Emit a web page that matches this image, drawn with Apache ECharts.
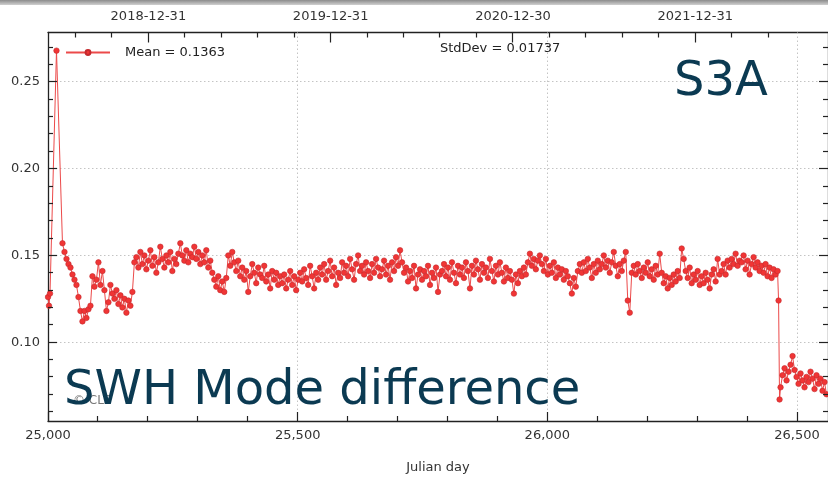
<!DOCTYPE html>
<html><head><meta charset="utf-8">
<script src="https://cdn.jsdelivr.net/npm/echarts@6/dist/echarts.min.js"></script>
<style>html,body{margin:0;padding:0;background:#fff}#c{width:828px;height:479px}</style>
</head><body><div id="c"></div>
<script>
// ---- data ----
const earlyDays = [25000, 25002, 25004, 25017];
const earlyVals = [0.126, 0.121, 0.128, 0.268];
const mainStartDay = 25029;
const mainStep = 4;
const mainVals = [
0.157,0.152,0.148,0.145,0.143,0.139,0.136,0.133,0.126,0.118,
0.112,0.118,0.114,0.119,0.121,0.138,0.132,0.136,0.146,0.133,
0.141,0.130,0.118,0.123,0.133,0.128,0.125,0.130,0.122,0.127,
0.120,0.125,0.117,0.124,0.121,0.129,0.146,0.149,0.143,0.152,
0.145,0.150,0.142,0.147,0.153,0.144,0.149,0.140,0.146,0.155,
0.148,0.143,0.150,0.146,0.152,0.141,0.148,0.145,0.151,0.157,
0.150,0.147,0.153,0.146,0.151,0.149,0.155,0.148,0.152,0.145,
0.150,0.146,0.153,0.143,0.147,0.140,0.136,0.132,0.138,0.130,
0.135,0.129,0.137,0.150,0.144,0.152,0.146,0.141,0.147,0.138,
0.143,0.136,0.141,0.129,0.138,0.145,0.140,0.134,0.143,0.139,
0.137,0.144,0.135,0.139,0.131,0.141,0.136,0.140,0.133,0.138,
0.134,0.139,0.131,0.136,0.141,0.133,0.138,0.130,0.136,0.140,
0.135,0.142,0.137,0.133,0.144,0.138,0.131,0.140,0.136,0.143,
0.139,0.145,0.136,0.141,0.147,0.138,0.143,0.133,0.140,0.137,
0.146,0.140,0.144,0.138,0.148,0.142,0.136,0.145,0.150,0.141,
0.144,0.139,0.146,0.141,0.137,0.145,0.140,0.148,0.143,0.138,
0.142,0.147,0.139,0.144,0.136,0.146,0.141,0.149,0.144,0.153,
0.146,0.140,0.143,0.135,0.141,0.137,0.144,0.131,0.139,0.142,
0.136,0.141,0.138,0.144,0.133,0.140,0.137,0.143,0.129,0.139,
0.141,0.145,0.138,0.143,0.136,0.146,0.140,0.134,0.144,0.139,
0.143,0.137,0.146,0.141,0.131,0.144,0.139,0.147,0.142,0.136,
0.145,0.140,0.143,0.137,0.148,0.141,0.135,0.144,0.139,0.146,
0.140,0.135,0.143,0.137,0.141,0.136,0.128,0.139,0.134,0.141,
0.138,0.143,0.139,0.146,0.151,0.144,0.148,0.142,0.147,0.150,
0.145,0.141,0.148,0.139,0.144,0.140,0.146,0.137,0.143,0.139,
0.142,0.136,0.141,0.138,0.134,0.128,0.137,0.132,0.141,0.145,
0.140,0.146,0.141,0.148,0.143,0.137,0.145,0.140,0.147,0.142,
0.145,0.150,0.143,0.147,0.140,0.146,0.152,0.144,0.138,0.145,
0.141,0.147,0.152,0.124,0.117,0.140,0.144,0.139,0.145,0.141,
0.137,0.143,0.140,0.146,0.138,0.142,0.136,0.144,0.139,0.151,
0.140,0.134,0.138,0.131,0.137,0.133,0.139,0.135,0.141,0.137,
0.154,0.148,0.141,0.137,0.143,0.134,0.139,0.136,0.141,0.133,
0.138,0.134,0.140,0.136,0.131,0.139,0.142,0.135,0.148,0.139,
0.141,0.145,0.139,0.147,0.143,0.148,0.145,0.151,0.144,0.147,
0.146,0.150,0.142,0.147,0.139,0.145,0.149,0.143,0.146,0.141,
0.144,0.140,0.145,0.138,0.143,0.137,0.142,0.139,0.141
];
const dropDays = [26463, 26465];
const dropVals = [0.124, 0.067];
const tailStartDay = 26467;
const tailStep = 4;
const tailVals = [
0.074,0.081,0.085,0.078,0.083,0.087,0.092,0.084,0.080,0.076,
0.082,0.078,0.074,0.080,0.077,0.083,0.079,0.073,0.081,0.076,
0.079,0.072,0.077,0.070
];

const seriesName = 'Mean = 0.1363';
const stdText = 'StdDev = 0.01737';
const xTitle = 'Julian day';
const bottomTicks = [25000, 25500, 26000, 26500];
const bottomMinorTicks = [25100,25200,25300,25400,25600,25700,25800,25900,26100,26200,26300,26400];
const topTickDays = [25201, 25566, 25931, 26296];
const topTickLabels = ['2018-12-31', '2019-12-31', '2020-12-30', '2021-12-31'];
const topMinorOffsets = [-146, -73, 73, 146];
const leftTicks = [0.10, 0.15, 0.20, 0.25];
const leftMinorTicks = [0.06,0.07,0.08,0.09,0.11,0.12,0.13,0.14,0.16,0.17,0.18,0.19,0.21,0.22,0.23,0.24,0.26,0.27];

// ---- build ----
const data = [];
earlyDays.forEach((d, i) => data.push([d, earlyVals[i]]));
mainVals.forEach((v, i) => data.push([mainStartDay + i * mainStep, v]));
dropDays.forEach((d, i) => data.push([d, dropVals[i]]));
tailVals.forEach((v, i) => data.push([tailStartDay + i * tailStep, v]));

const X_MIN = 25000, X_MAX = 26562, Y_MIN = 0.0546, Y_MAX = 0.27845;
const topMinor = [];
topTickDays.forEach(d => topMinorOffsets.forEach(o => {
  const t = d + o;
  if (t > X_MIN && t < X_MAX && topMinor.indexOf(t) < 0) topMinor.push(t);
}));

// tick/grid items: [value, kind]
// kinds: 0 bottom major, 1 bottom minor, 2 top major, 3 top minor, 4 y major (both sides), 5 y minor (both sides)
const tickItems = [];
bottomTicks.forEach(v => tickItems.push([v, 0]));
bottomMinorTicks.forEach(v => tickItems.push([v, 1]));
topTickDays.forEach(v => tickItems.push([v, 2]));
topMinor.forEach(v => tickItems.push([v, 3]));
leftTicks.forEach(v => tickItems.push([v, 4]));
leftMinorTicks.forEach(v => tickItems.push([v, 5]));
// grid items: 6 vertical dotted, 7 horizontal dotted
const gridItems = [];
bottomTicks.forEach(v => { if (v > X_MIN) gridItems.push([v, 6]); });
leftTicks.forEach(v => gridItems.push([v, 7]));

const TICK = { stroke: '#222', lineWidth: 1.2 };
const crisp = p => Math.round(p - 0.5) + 0.5;
function seg(x1, y1, x2, y2, style) {
  return { type: 'line', shape: { x1, y1, x2, y2 }, style };
}
function renderMarks(params, api) {
  const cs = params.coordSys;
  const L = cs.x, R = cs.x + cs.width, T = cs.y, B = cs.y + cs.height;
  const v = api.value(0), k = api.value(1);
  if (k <= 3 || k === 6) {
    const px = crisp(api.coord([v, Y_MIN])[0]);
    if (k === 0) return seg(px, B, px, B - 9, TICK);
    if (k === 1) return seg(px, B, px, B - 5, TICK);
    if (k === 2) return seg(px, T, px, T + 10, TICK);
    if (k === 3) return seg(px, T, px, T + 5, TICK);
    return seg(px, T, px, B, { stroke: '#c4c4c4', lineWidth: 1, lineDash: [1.5, 2.5] });
  }
  const py = crisp(api.coord([X_MIN, v])[1]);
  if (k === 7) return seg(L, py, R, py, { stroke: '#c4c4c4', lineWidth: 1, lineDash: [1.5, 2.5] });
  const len = k === 4 ? 9 : 5;
  return { type: 'group', children: [seg(L, py, L + len, py, TICK), seg(R, py, R - len, py, TICK)] };
}

const FONT = 'DejaVu Sans';
const axisLineStyle = { color: '#222', width: 1.3 };

const chart = echarts.init(document.getElementById('c'), null, { renderer: 'canvas' });
chart.setOption({
  animation: false,
  backgroundColor: '#fff',
  textStyle: { fontFamily: FONT },
  grid: { left: 48, top: 32.5, width: 781, height: 389.5, containLabel: false },
  legend: {
    left: 60, top: 41, itemWidth: 44, itemHeight: 6,
    textStyle: { fontFamily: FONT, fontSize: 13, color: '#222', padding: [0, 0, 0, 10] },
    data: [seriesName]
  },
  xAxis: [
    { type: 'value', position: 'bottom', min: X_MIN, max: X_MAX,
      name: xTitle, nameLocation: 'middle', nameGap: 40,
      nameTextStyle: { fontFamily: FONT, fontSize: 13, color: '#333' },
      axisLine: { show: true, lineStyle: axisLineStyle },
      axisTick: { show: false },
      axisLabel: { customValues: bottomTicks, margin: 8, fontSize: 13, color: '#333', fontFamily: FONT },
      splitLine: { show: false } },
    { type: 'value', position: 'top', min: X_MIN, max: X_MAX,
      axisLine: { show: true, lineStyle: axisLineStyle },
      axisTick: { show: false },
      axisLabel: { customValues: topTickDays, margin: 9, fontSize: 13, color: '#333', fontFamily: FONT,
        formatter: v => { const i = topTickDays.indexOf(v); return i >= 0 ? topTickLabels[i] : ''; } },
      splitLine: { show: false } }
  ],
  yAxis: [
    { type: 'value', position: 'left', min: Y_MIN, max: Y_MAX,
      axisLine: { show: true, lineStyle: axisLineStyle },
      axisTick: { show: false },
      axisLabel: { customValues: leftTicks, margin: 8, fontSize: 13, color: '#333', fontFamily: FONT, formatter: v => v.toFixed(2) },
      splitLine: { show: false } },
    { type: 'value', position: 'right', min: Y_MIN, max: Y_MAX,
      axisLine: { show: true, lineStyle: axisLineStyle },
      axisTick: { show: false }, axisLabel: { show: false }, splitLine: { show: false } }
  ],
  series: [
    { name: 'grid', type: 'custom', xAxisIndex: 0, yAxisIndex: 0, data: gridItems,
      renderItem: renderMarks, silent: true, z: 1, clip: false },
    { name: seriesName, type: 'line', xAxisIndex: 0, yAxisIndex: 0,
      data: data, symbol: 'circle', symbolSize: 5.5, showSymbol: true,
      lineStyle: { color: '#ec4a4a', width: 1 },
      itemStyle: { color: '#f03535', borderColor: '#c42a2e', borderWidth: 0.6 },
      z: 3 },
    { name: 'ticks', type: 'custom', xAxisIndex: 0, yAxisIndex: 0, data: tickItems,
      renderItem: renderMarks, silent: true, z: 4, clip: false }
  ],
  graphic: [
    { type: 'rect', left: 0, top: 0, z: 10, shape: { width: 828, height: 5 },
      style: { fill: new echarts.graphic.LinearGradient(0, 0, 0, 1, [{ offset: 0, color: '#8c8c8c' }, { offset: 1, color: '#d0d0d0' }]) } },
    { type: 'text', x: 440, y: 49, z: 10,
      style: { text: stdText, font: '13px "DejaVu Sans"', fill: '#222', verticalAlign: 'middle' } },
    { type: 'text', x: 73, y: 401, z: 9,
      style: { text: '© CLS', font: '12px "DejaVu Sans"', fill: '#777', verticalAlign: 'middle' } },
    { type: 'text', x: 674, y: 59, z: 10,
      style: { text: 'S3A', font: '48px "DejaVu Sans"', fill: '#0b3a52' } },
    { type: 'text', x: 64, y: 368, z: 10,
      style: { text: 'SWH Mode difference', font: '48px "DejaVu Sans"', fill: '#0b3a52' } }
  ]
});
</script></body></html>
